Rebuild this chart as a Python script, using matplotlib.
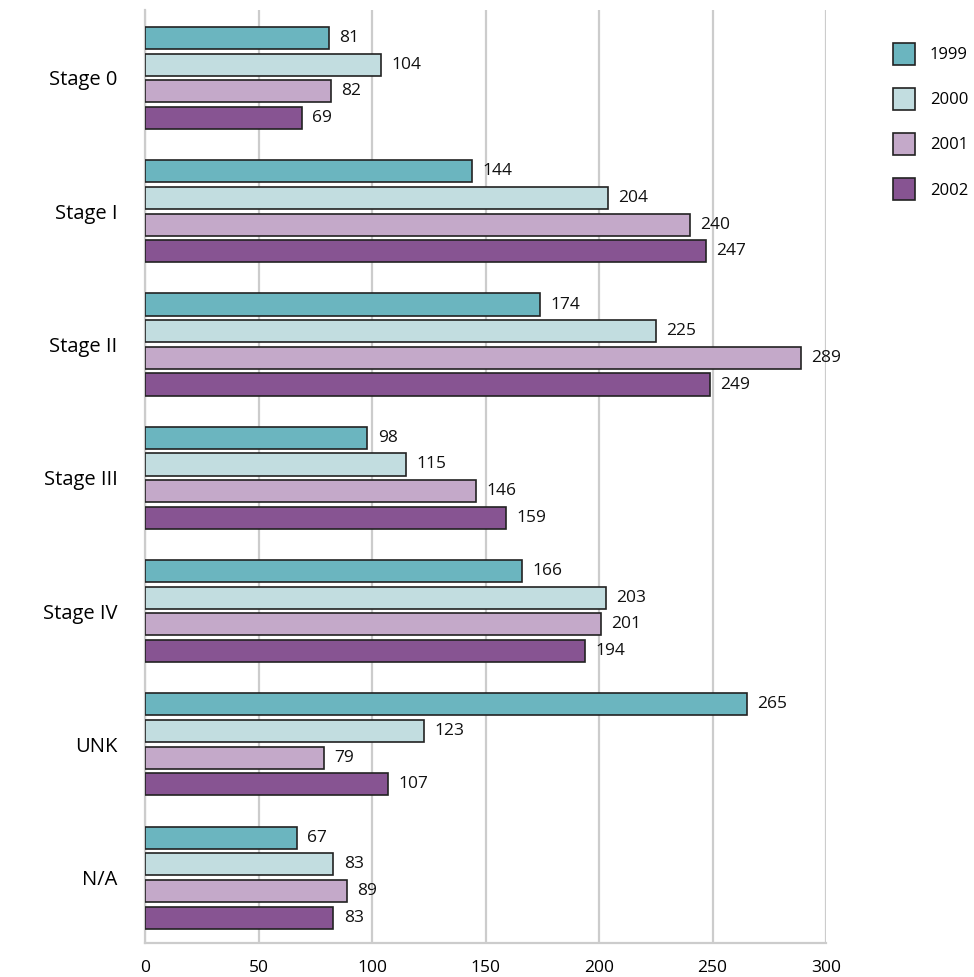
import numpy as np
import matplotlib.pyplot as plt

plt.rcParams["font.family"] = ["Open Sans", "DejaVu Sans"]

categories = ["Stage 0", "Stage I", "Stage II", "Stage III", "Stage IV", "UNK", "N/A"]
years = ["1999", "2000", "2001", "2002"]
v1999 = [81, 144, 174, 98, 166, 265, 67]
v2000 = [104, 204, 225, 115, 203, 123, 83]
v2001 = [82, 240, 289, 146, 201, 79, 89]
v2002 = [69, 247, 249, 159, 194, 107, 83]
xticks = [0, 50, 100, 150, 200, 250, 300]

colors = ["#6BB5BF", "#C2DDE0", "#C4A9C9", "#875492"]
series = [v1999, v2000, v2001, v2002]

fig = plt.figure(figsize=(9.74, 9.77), dpi=100)
ax = fig.add_axes([0.1489, 0.0348, 0.6992, 0.955])

group_step = 5
for j, (vals, col, yr) in enumerate(zip(series, colors, years)):
    ys = np.arange(len(categories)) * group_step + j
    ax.barh(ys, vals, height=0.83, color=col, edgecolor="#222222",
            linewidth=1.2, label=yr, zorder=3)
    for y, v in zip(ys, vals):
        ax.text(v + 4.5, y, str(v), va="center", ha="left", fontsize=12.5, color="#111111")

ax.set_xlim(0, 300)
ax.set_ylim(33.95, -1.05)
ax.set_xticks(xticks)
ax.set_xticklabels([str(t) for t in xticks], fontsize=12.5)
ax.set_yticks(np.arange(len(categories)) * group_step + 1.5)
ax.set_yticklabels(categories, fontsize=14.5)
ax.tick_params(axis="y", length=0, pad=20)
ax.tick_params(axis="x", length=0, pad=12)

ax.grid(True, axis="x", color="#CCCCCC", linewidth=1.6, zorder=0)
for s in ["top", "right"]:
    ax.spines[s].set_visible(False)
for s in ["left", "bottom"]:
    ax.spines[s].set_color("#CCCCCC")
    ax.spines[s].set_linewidth(1.6)

ax.legend(loc="upper left", bbox_to_anchor=(1.098, 0.9646), frameon=False,
          fontsize=12, handlelength=1.33, handleheight=1.63, labelspacing=1.4,
          handletextpad=0.9, borderaxespad=0, borderpad=0)

fig.savefig("out.png", dpi=100)
